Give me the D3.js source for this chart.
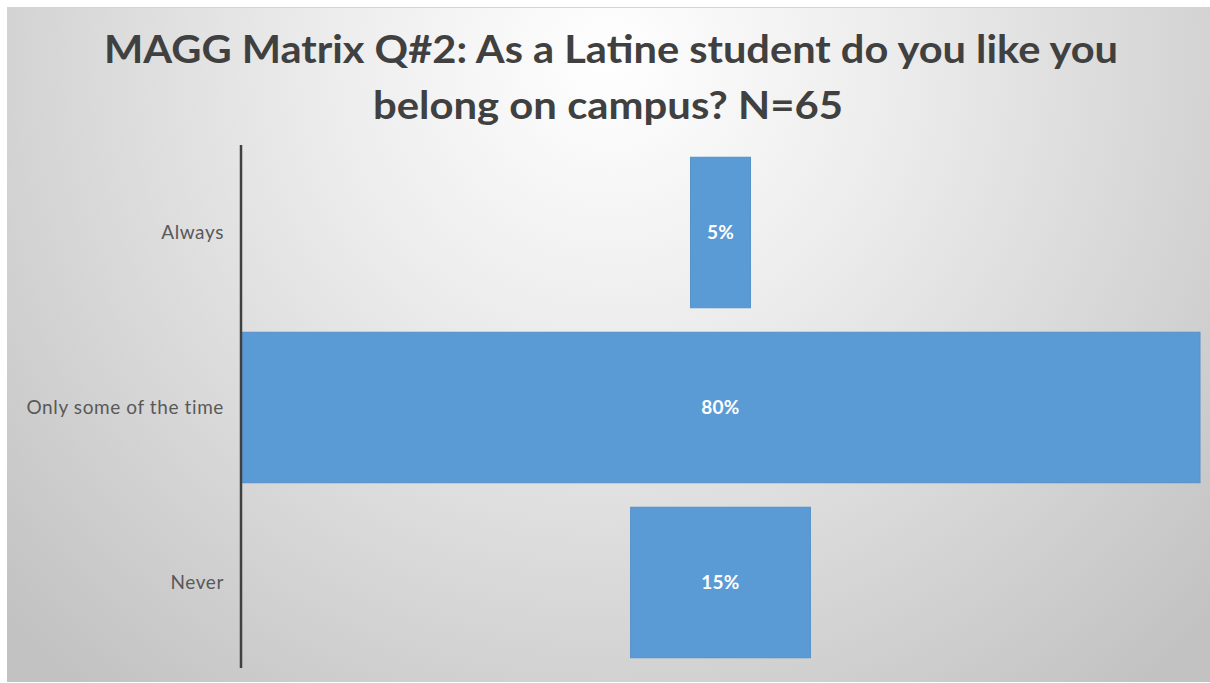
<!DOCTYPE html>
<html>
<head>
<meta charset="utf-8">
<script src="https://cdn.jsdelivr.net/npm/d3@7"></script>
<style>
  html, body { margin: 0; padding: 0; background: #ffffff; }
  svg { display: block; }
</style>
</head>
<body>
<svg id="chart" width="1210" height="683"></svg>
<script>
// Survey responses (percent of respondents)
const categories = ["Always", "Only some of the time", "Never"];
const values = [5, 80, 15];
const valueLabels = ["5%", "80%", "15%"];
const titleLines = [
  "MAGG Matrix Q#2: As a Latine student do you like you",
  "belong on campus? N=65"
];

const svg = d3.select("#chart");
const W = 1210, H = 683;

// Chart area background: soft radial grey gradient
const defs = svg.append("defs");
const grad = defs.append("radialGradient")
  .attr("id", "bg")
  .attr("gradientUnits", "userSpaceOnUse")
  .attr("cx", 610).attr("cy", 60)
  .attr("fx", 610).attr("fy", 60)
  .attr("r", 820);
grad.append("stop").attr("offset", "0%").attr("stop-color", "#ffffff");
grad.append("stop").attr("offset", "35%").attr("stop-color", "#ececec");
grad.append("stop").attr("offset", "100%").attr("stop-color", "#c2c2c2");

svg.append("rect")
  .attr("x", 7).attr("y", 7)
  .attr("width", W - 7).attr("height", H - 8)
  .attr("fill", "url(#bg)");
svg.append("line")
  .attr("x1", 7).attr("x2", W).attr("y1", 7.5).attr("y2", 7.5)
  .attr("stroke", "#d4d4d4").attr("stroke-width", 1);

// Title
const title = svg.append("g")
  .attr("font-family", "Lato, 'Open Sans', sans-serif")
  .attr("font-weight", 700)
  .attr("font-size", 39)
  .attr("fill", "#404040")
  .attr("text-anchor", "middle");
title.selectAll("text")
  .data(titleLines)
  .join("text")
  .attr("x", (d, i) => i === 0 ? 611 : 608)
  .attr("y", (d, i) => 63 + i * 56)
  .attr("textLength", (d, i) => i === 0 ? 1014 : 470)
  .attr("lengthAdjust", "spacingAndGlyphs")
  .text(d => d);

// Scales: centred (funnel-style) horizontal bars
const x = d3.scaleLinear().domain([-40, 40]).range([241, 1200]);
const y = d3.scaleBand()
  .domain(categories)
  .range([145, 670])
  .paddingInner(0.14)
  .paddingOuter(0.07);

const data = categories.map((c, i) => ({ cat: c, v: values[i], label: valueLabels[i] }));

svg.append("g")
  .selectAll("rect")
  .data(data)
  .join("rect")
  .attr("x", d => x(-d.v / 2))
  .attr("y", d => y(d.cat))
  .attr("width", d => x(d.v / 2) - x(-d.v / 2))
  .attr("height", y.bandwidth())
  .attr("fill", "#5b9bd5")
  .attr("stroke", "#5590c8")
  .attr("stroke-width", 1);

// Value labels inside bars
svg.append("g")
  .attr("font-family", "Lato, 'Open Sans', sans-serif")
  .attr("font-weight", 700)
  .attr("font-size", 19)
  .attr("letter-spacing", 0.3)
  .attr("fill", "#ffffff")
  .attr("text-anchor", "middle")
  .selectAll("text")
  .data(data)
  .join("text")
  .attr("x", d => x(0))
  .attr("y", d => y(d.cat) + y.bandwidth() / 2)
  .attr("dy", "0.35em")
  .text(d => d.label);

// Category axis
const axis = svg.append("g")
  .attr("transform", `translate(${x(-40)},0)`)
  .call(d3.axisLeft(y).tickSize(0).tickPadding(17));
axis.select(".domain")
  .attr("d", "M0,145V668")
  .attr("stroke", "#404040")
  .attr("stroke-width", 2.5);
axis.selectAll(".tick text")
  .attr("font-family", "Lato, 'Open Sans', sans-serif")
  .attr("font-size", 19)
  .attr("letter-spacing", 0.6)
  .attr("fill", "#595959");
</script>
</body>
</html>
